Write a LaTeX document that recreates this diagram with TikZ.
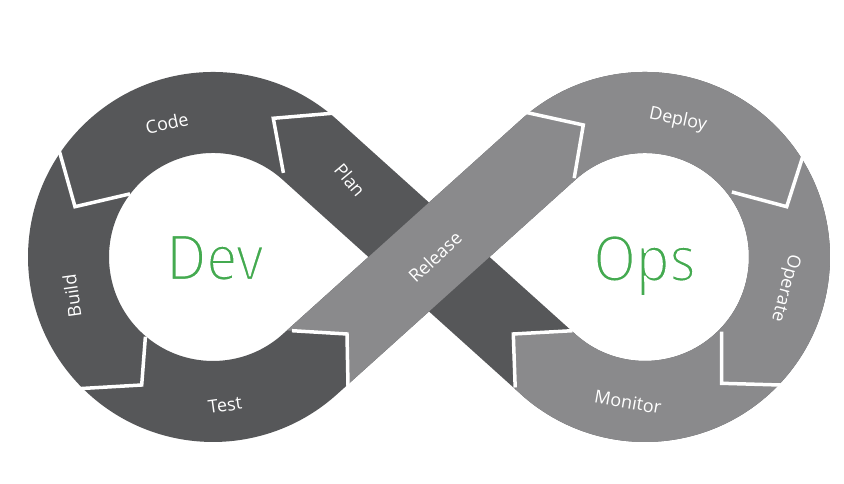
\documentclass[tikz,border=0pt]{standalone}
\usepackage{fontspec}
\setmainfont{Open Sans}
\definecolor{devdark}{RGB}{86,87,89}
\definecolor{opslight}{RGB}{138,138,140}
\definecolor{devgreen}{RGB}{68,170,80}
\newcommand{\thinglyphs}{\special{pdf:literal direct 2 Tr 1 1 1 RG 2 w}}
\begin{document}
\begin{tikzpicture}[x=1pt,y=1pt,
  band/.style={line width=81pt, line cap=butt, line join=round},
  cut/.style={draw=white, line width=3.5pt, line join=miter, line cap=butt},
  lbl/.style={text=white, font=\fontsize{18}{18}\selectfont, inner sep=0pt},
  big/.style={text=devgreen, font=\fontsize{63}{63}\selectfont, inner sep=0pt, anchor=base, xscale=0.87}]
\useasboundingbox (0,0) rectangle (844,484);
\fill[white] (0,0) rectangle (844,484);
\coordinate (T1) at (309.7,334.4);
\coordinate (T2) at (309.7,119.6);
\coordinate (T3) at (548.3,119.6);
\coordinate (T4) at (548.3,334.4);
\coordinate (P3) at (503.7,159.7);
\coordinate (Q3) at (562.1,108.6);
% whole infinity band in dark
\draw[band, devdark] (T1) arc[start angle=48, end angle=312, radius=144.5] -- (T4)
   arc[start angle=132, end angle=-132, radius=144.5] -- cycle;
% Release band and Ops loop in light grey
\begin{scope}
  \clip (347,150) -- (-50,173.8) -- (-50,534) -- (900,534) -- (900,-50) -- (350.8,-50) -- cycle;
  \draw[band, opslight] (T2) -- (T4) arc[start angle=132, end angle=-132, radius=144.5];
\end{scope}
\begin{scope}
  \clip (513.3,150) -- (675.9,159) -- (675.9,0) -- (518.7,0) -- cycle;
  \draw[band, opslight] (Q3) arc[start angle=-125, end angle=-132, radius=144.5] -- (P3);
\end{scope}
% white chevron separators
\draw[cut] (336.7,371.1) -- (273.3,365.7) -- (283.4,311.1);
\draw[cut] (58.6,335.5) -- (75,277.3) -- (129.9,290.1);
\draw[cut] (145.4,147.3) -- (141.7,99) -- (80,95.4);
\draw[cut] (292,153.3) -- (347,150) -- (348.1,93);
\draw[cut] (525.1,371.8) -- (583.3,359) -- (574.2,305.8);
\draw[cut] (803.2,328.8) -- (786.7,277.3) -- (731.9,292);
\draw[cut] (721.7,152.3) -- (721.7,100.7) -- (783.3,98.9);
\draw[cut] (572.5,153.3) -- (513.3,150) -- (515.2,96.5);
% labels
\node[lbl, rotate=12] (code) at (167,361) {Code};
\node[lbl, rotate=-50] (plan) at (350,304) {Plan};
\node[lbl, rotate=98] (build) at (72,188) {Build};
\node[lbl, rotate=8] (test) at (225,79) {Test};
\node[lbl, rotate=43] (release) at (435,227) {Release};
\node[lbl, rotate=-12] (deploy) at (678,364) {Deploy};
\node[lbl, rotate=-105] (operate) at (785,196) {Operate};
\node[lbl, rotate=-10] (monitor) at (628,82) {Monitor};
\node[big] (dev) at (215,204) {\thinglyphs Dev};
\node[big] (ops) at (644.5,203) {\thinglyphs Ops};
\end{tikzpicture}
\end{document}
